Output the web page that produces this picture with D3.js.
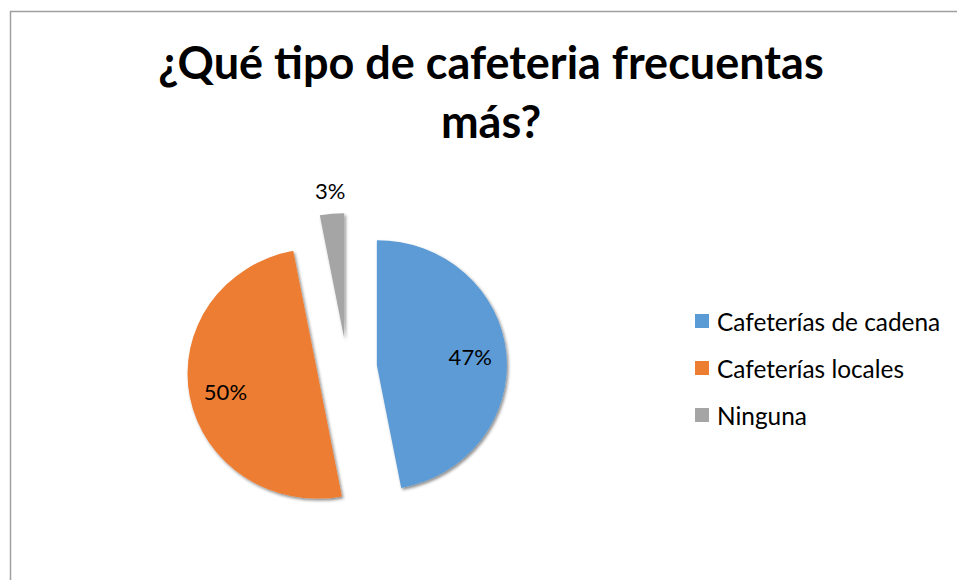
<!DOCTYPE html>
<html>
<script src="https://d3js.org/d3.v7.min.js"></script>

<head>
    <meta charset="utf-8">
    <style>
        body {
            margin: 0;
            background-color: #ffffff;
            font-family: Lato, "Open Sans", sans-serif;
        }

        svg {
            display: block;
        }
    </style>
</head>

<body>
</body>
<script>
    const width = 957,
        height = 580;

    // chart data
    const titleLines = ["¿Qué tipo de cafeteria frecuentas", "más?"];
    const categories = ["Cafeterías de cadena", "Cafeterías locales", "Ninguna"];
    const values = [47, 50, 3];
    const colors = ["#5b9bd5", "#ed7d31", "#a5a5a5"];

    const svg = d3.select("body").append("svg").attr("width", width).attr("height", height);

    // drop shadow like the office chart
    const defs = svg.append("defs");
    const shadow = defs.append("filter")
        .attr("id", "shadow")
        .attr("x", "-20%").attr("y", "-20%")
        .attr("width", "140%").attr("height", "140%");
    shadow.append("feDropShadow")
        .attr("dx", 1.5)
        .attr("dy", 2)
        .attr("stdDeviation", 1.5)
        .attr("flood-color", "#000")
        .attr("flood-opacity", 0.45);

    // chart area border (only top and left visible)
    svg.append("rect")
        .attr("x", 10.5)
        .attr("y", 11.5)
        .attr("width", 1000)
        .attr("height", 1000)
        .attr("fill", "none")
        .attr("stroke", "#a0a0a0")
        .attr("stroke-width", 1.5);

    // title
    svg.append("text")
        .attr("x", 491)
        .attr("y", 79)
        .attr("text-anchor", "middle")
        .attr("font-size", 45)
        .attr("font-weight", "bold")
        .selectAll("tspan")
        .data(titleLines)
        .join("tspan")
        .attr("x", 491)
        .attr("dy", (d, i) => i === 0 ? 0 : 59)
        .text(d => d);

    // pie
    const cx = 347,
        cy = 368,
        r = 125,
        explode = 30;

    const pie = d3.pie().sort(null).value(d => d.value);
    const arc = d3.arc().innerRadius(0).outerRadius(r);
    const data = categories.map((c, i) => ({ name: c, value: values[i], color: colors[i] }));
    const arcs = pie(data);
    const total = d3.sum(values);

    const g = svg.append("g").attr("transform", `translate(${cx},${cy})`);

    function offset(d, dist) {
        const a = (d.startAngle + d.endAngle) / 2;
        return [Math.sin(a) * dist, -Math.cos(a) * dist];
    }

    g.selectAll("path")
        .data(arcs)
        .join("path")
        .attr("transform", d => {
            const [dx, dy] = offset(d, explode);
            return `translate(${dx},${dy}) scale(1.04,1)`;
        })
        .attr("d", arc)
        .attr("fill", d => d.data.color)
        .attr("filter", "url(#shadow)");

    // data labels
    g.selectAll("text.label")
        .data(arcs)
        .join("text")
        .attr("class", "label")
        .attr("transform", d => {
            const small = d.data.value / total < 0.05;
            const [dx, dy] = offset(d, small ? explode + r + 23 : explode + r * 0.75);
            return `translate(${dx},${dy})`;
        })
        .attr("text-anchor", "middle")
        .attr("dominant-baseline", "central")
        .attr("font-size", 22)
        .attr("fill", "#000")
        .text(d => Math.round(d.data.value / total * 100) + "%");

    // legend
    const legendY = d3.scalePoint()
        .domain(categories)
        .range([321, 415]);

    const legend = svg.append("g");
    const items = legend.selectAll("g")
        .data(data)
        .join("g")
        .attr("transform", d => `translate(695,${legendY(d.name)})`);
    items.append("rect")
        .attr("x", 0)
        .attr("y", -7)
        .attr("width", 14)
        .attr("height", 14)
        .attr("fill", d => d.color);
    items.append("text")
        .attr("x", 22)
        .attr("y", 0)
        .attr("dominant-baseline", "central")
        .attr("font-size", 24.4)
        .attr("fill", "#000")
        .text(d => d.name);
</script>

</html>
